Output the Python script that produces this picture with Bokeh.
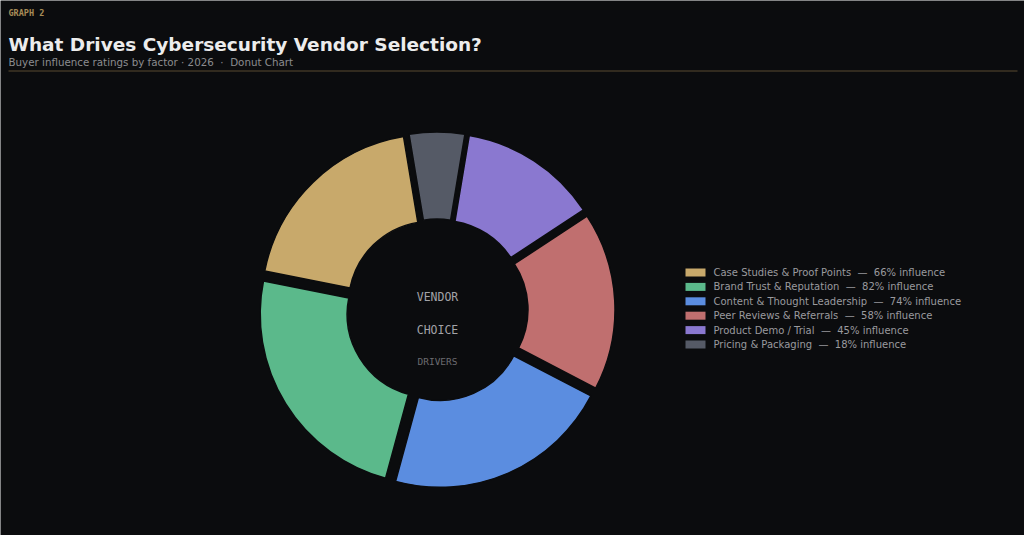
import math
from bokeh.plotting import figure
from bokeh.models import Range1d, ColumnDataSource
from bokeh.core.properties import value
from bokeh.embed import file_html
from bokeh.resources import INLINE

# ---- data ----
factors = ["Case Studies & Proof Points", "Brand Trust & Reputation",
           "Content & Thought Leadership", "Peer Reviews & Referrals",
           "Product Demo / Trial", "Pricing & Packaging"]
influence = [66, 82, 74, 58, 45, 18]
colors = ["#c8a96b", "#5bb98b", "#5b8de0", "#c06f6f", "#8a78d0", "#555a66"]

BG = "#0b0c0e"
W, H = 1024, 535
SP = "\u00a0"

def Y(page_y):
    return H - page_y

def X(page_x):
    return page_x

p = figure(width=W, height=H, x_range=Range1d(0, W), y_range=Range1d(0, H),
           output_backend="svg", toolbar_location=None,
           x_axis_type=None, y_axis_type=None, min_border=0,
           background_fill_color=BG, border_fill_color=BG, outline_line_color=None)
p.grid.visible = False

# ---- donut ----
total = sum(influence)
start = math.radians(99.45)
cx, cy = X(436.5), Y(309.5)
explode = 8
r_in, r_out = 83, 170
starts, ends, xs, ys = [], [], [], []
a = start
for v in influence:
    span = 2 * math.pi * v / total
    mid = a + span / 2
    starts.append(a)
    ends.append(a + span)
    xs.append(cx + explode * math.cos(mid))
    ys.append(cy + explode * math.sin(mid))
    a += span
src = ColumnDataSource(dict(x=xs, y=ys, s=starts, e=ends, c=colors))
p.annular_wedge(x="x", y="y", inner_radius=r_in, outer_radius=r_out,
                start_angle="s", end_angle="e", fill_color="c",
                line_color=BG, line_width=1.5, source=src)

# center labels
p.text(x=[437, 437], y=[Y(296), Y(329)], text=["VENDOR", "CHOICE"],
       text_font=value("DejaVu Sans Mono"), text_font_size="11.5px",
       text_color="#a3a3a8", text_align="center", text_baseline="middle")
p.text(x=[437], y=[Y(361)], text=["DRIVERS"],
       text_font=value("DejaVu Sans Mono"), text_font_size="9.5px",
       text_color="#6b6b70", text_align="center", text_baseline="middle")

# ---- legend ----
row_y = [Y(272 + 14.4 * i) for i in range(len(factors))]
labels = [f"{f}{SP} \u2014 {SP}{v}% influence" for f, v in zip(factors, influence)]
p.rect(x=[X(695)] * len(factors), y=row_y, width=20, height=8,
       fill_color=colors, line_color=None)
p.text(x=[X(713)] * len(factors), y=row_y, text=labels,
       text_font=value("DejaVu Sans"), text_font_size="10px",
       text_color="#9a9a9e", text_align="left", text_baseline="middle")

# ---- header ----
p.text(x=[X(8)], y=[Y(12)], text=["GRAPH 2"],
       text_font=value("DejaVu Sans Mono"), text_font_size="8.5px",
       text_font_style="bold", text_color="#a68b57",
       text_align="left", text_baseline="middle")
p.text(x=[X(8)], y=[Y(44)], text=["What Drives Cybersecurity Vendor Selection?"],
       text_font=value("DejaVu Sans"), text_font_size="18.5px",
       text_font_style="bold", text_color="#ececec",
       text_align="left", text_baseline="alphabetic")
p.text(x=[X(8)], y=[Y(61)], text=[f"Buyer influence ratings by factor \u00b7 2026 {SP}\u00b7{SP} Donut Chart"],
       text_font=value("DejaVu Sans"), text_font_size="10.3px",
       text_color="#8c8c90", text_align="left", text_baseline="middle")
p.segment(x0=[X(8)], y0=[Y(70.5)], x1=[X(1017)], y1=[Y(70.5)],
          line_color="#5a4a30", line_width=1)

open("out.html", "w").write(file_html(p, INLINE))
